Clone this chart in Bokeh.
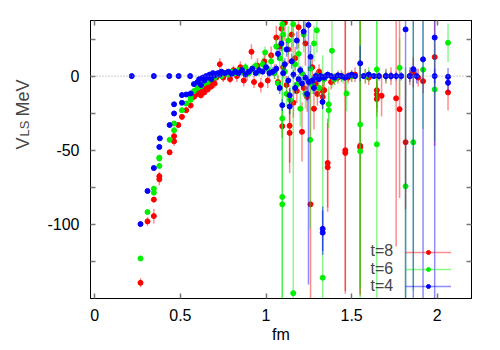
import math
from bokeh.plotting import figure
from bokeh.layouts import row
from bokeh.models import (ColumnDataSource, Span, Label, Legend, LegendItem,
                          LinearAxis, FixedTicker, CustomJSTickFormatter, Range1d)
from bokeh.embed import file_html
from bokeh.resources import INLINE

# ---------------- data ----------------
series_names = ["t=8", "t=6", "t=4"]

x8 = [0.267, 0.308, 0.345, 0.345, 0.377, 0.377, 0.437, 0.463, 0.463, 0.488,
      0.509, 0.534, 0.56, 0.58, 0.60, 0.61, 0.62, 0.63, 0.64, 0.65,
      0.66, 0.67, 0.68, 0.69, 0.70, 0.71, 0.72, 0.73, 0.75, 0.77,
      0.79, 0.81, 0.83, 0.85, 0.87, 0.89, 0.915, 0.93, 0.95, 0.97,
      0.99, 1.01, 1.03, 1.05, 1.06, 1.07, 1.08, 1.09, 1.095, 1.10,
      1.11, 1.12, 1.13, 1.138, 1.138, 1.15, 1.16, 1.17, 1.18, 1.19,
      1.21, 1.22, 1.23, 1.24, 1.26, 1.27, 1.28, 1.29, 1.30, 1.31,
      1.331, 1.331, 1.34, 1.36, 1.36, 1.38, 1.40, 1.42, 1.44, 1.463,
      1.463, 1.48, 1.50, 1.52, 1.55, 1.55, 1.58, 1.60, 1.647, 1.647,
      1.647, 1.675, 1.70, 1.73, 1.76, 1.78, 1.815, 1.84, 1.86, 1.889,
      1.917, 1.985, 2.063]
y8 = [-139.4, -98, -94.4, -83.3, -69.6, -67.5, -51.4, -44, -40.5, -33,
      -27.5, -23, -19.8, -14, -12, -10, -13, -9, -11, -7,
      -9, -5, -7, -3, -5, -1, 1, 8, -1, 2,
      -2, 4, 0, 6, -3, 2, 16.4, -4, 7, -6,
      10, -3, 14, 3, 26, -4, 20, 32, -33.8, 6,
      36, -6, 18, -38.3, -33.5, 28, -18, 12, -10, 33,
      -37.6, -8, 22, -14, -86.5, 6, -22, -5, -12, 3,
      -14, -10, -9.5, -58.6, -61.5, -4, -2, -1, 0, -50,
      -51.8, -1, 0, 1, -47, -48, 0, -1, -9.5, -12.4,
      -15.5, -13.3, 0, 0, -15, -22.3, -44.6, 0, 2.5, -1,
      -3.4, 12.8, -11]
e8 = [3, 3, 5, 2, 4, 3, 2, 3, 2, 2,
      2, 2, 2, 2, 2, 2, 2, 2, 2, 2,
      2, 2, 2, 2, 3, 2, 3, 4, 3, 3,
      3, 3, 4, 4, 4, 5, 5, 4, 5, 5,
      6, 5, 6, 5, 8, 5, 8, 10, 8, 5,
      12, 6, 10, 27, 25, 12, 10, 8, 8, 14,
      20, 6, 15, 10, 80, 8, 14, 6, 8, 5,
      8, 8, 6, 30, 30, 5, 4, 4, 4, 95,
      95, 4, 4, 5, 100, 100, 5, 5, 12, 12,
      12, 14, 5, 6, 100, 60, 45, 6, 10, 6,
      8, 60, 12]

x6 = [0.267, 0.308, 0.345, 0.345, 0.377, 0.377, 0.377, 0.437, 0.463, 0.463,
      0.509, 0.534, 0.56, 0.56, 0.58, 0.60, 0.61, 0.62, 0.63, 0.64,
      0.65, 0.66, 0.67, 0.68, 0.69, 0.70, 0.72, 0.74, 0.76, 0.78,
      0.80, 0.82, 0.84, 0.86, 0.88, 0.90, 0.92, 0.94, 0.96, 0.98,
      0.995, 1.01, 1.03, 1.05, 1.06, 1.07, 1.08, 1.095, 1.095, 1.095,
      1.095, 1.10, 1.11, 1.12, 1.13, 1.14, 1.159, 1.159, 1.17, 1.18,
      1.19, 1.20, 1.21, 1.22, 1.23, 1.258, 1.26, 1.27, 1.28, 1.297,
      1.30, 1.31, 1.331, 1.34, 1.366, 1.366, 1.385, 1.40, 1.42, 1.45,
      1.47, 1.50, 1.55, 1.55, 1.58, 1.60, 1.647, 1.647, 1.70, 1.78,
      1.815, 1.86, 1.917, 1.985, 2.063]
y6 = [-123, -91.7, -78.6, -75.9, -60.6, -55.6, -55, -43, -36.5, -32,
      -23, -18.5, -16, -14, -10, -8, -6, -7, -4, -5,
      -3, -4, -1, -2, 0, -1, 1, 0, 2, 1,
      3, 2, 4, 3, 6, 2, 5, 7, 3, 8,
      16, 5, 10, 2, 20, -5, 12, 35, -81.5, -86.5,
      -28.6, 28, 3, -12, 24, -16, 35, -146.4, 8, -6,
      15, -22, 2, 28, -12, -43, 5, -6, 22, 30.9,
      0, -8, -136, -2, -23, -19, 17.1, -2, 0, -1,
      -11.7, 0, -50.7, -32.6, 0, 1, 4.5, -46, 0, 5.6,
      -74.3, -44.6, 4.3, -9, 22.5]
e6 = [1.5, 1.5, 1.5, 1.5, 1.5, 1.5, 1.5, 1.5, 1.5, 1.5,
      1.5, 1.5, 1.5, 1.5, 1.5, 1.5, 1.5, 1.5, 1.5, 1.5,
      1.5, 1.5, 1.5, 1.5, 1.5, 2, 2, 2, 2, 2,
      2, 2, 2, 3, 3, 3, 3, 3, 3, 4,
      4, 4, 5, 4, 6, 5, 6, 15, 130, 130,
      8, 10, 5, 8, 10, 10, 15, 190, 6, 6,
      10, 12, 5, 12, 10, 60, 5, 6, 12, 15,
      4, 6, 150, 4, 12, 12, 25, 4, 4, 4,
      12, 4, 110, 110, 5, 5, 40, 110, 5, 20,
      80, 100, 40, 35, 13]

x4 = [0.216, 0.345, 0.435, 0.49, 0.557, 0.267, 0.308, 0.345, 0.377, 0.38,
      0.437, 0.463, 0.463, 0.509, 0.509, 0.534, 0.56, 0.579, 0.60, 0.61,
      0.62, 0.63, 0.64, 0.65, 0.66, 0.67, 0.68, 0.69, 0.70, 0.71,
      0.72, 0.73, 0.74, 0.76, 0.78, 0.80, 0.82, 0.84, 0.86, 0.88,
      0.90, 0.92, 0.94, 0.96, 0.98, 1.00, 1.02, 1.04, 1.06, 1.07,
      1.08, 1.09, 1.095, 1.10, 1.11, 1.12, 1.13, 1.138, 1.138, 1.15,
      1.16, 1.17, 1.18, 1.19, 1.20, 1.21, 1.22, 1.23, 1.24, 1.248,
      1.25, 1.26, 1.27, 1.28, 1.29, 1.30, 1.31, 1.32, 1.331, 1.331,
      1.33, 1.34, 1.35, 1.36, 1.38, 1.40, 1.42, 1.44, 1.46, 1.48,
      1.50, 1.52, 1.55, 1.57, 1.60, 1.63, 1.66, 1.70, 1.73, 1.76,
      1.79, 1.815, 1.84, 1.86, 1.88, 1.917, 1.985, 1.985, 2.063, 2.063]
y4 = [0, 0, 0, 0, 0, -99.8, -77.5, -62, -47.8, -42,
      -33, -25.2, -19, -18, -12.8, -12.4, -11.7, -5.4, -4, -2,
      -6, -1, -3, 0, -1, 1, -2, 2, 0.5, 1.5,
      2, 1, 3, 2, 3, 1.5, 3, 2, 4, 1,
      3, 5, 2, 4, 3, 6, 2, 3, 5, 15,
      -8, 22, -19.6, 2, 8, 18, -3, -13, -20.5, 10,
      1, -8, 24, -2, 4, -5, 30, -1, -12, 34.5,
      -4, 13, -3, -8, 0, -1, -2, 0, -103, -105.6,
      -17.4, -1, 0, 1, 0, -1, 0.5, 0, -1, 0,
      1, 0, 8.6, 0, 1, 0, 0, 0, 0, 0,
      0, 31.5, 0, 4.7, 0, 11.3, 26, 0, -0.5, -4.5]
e4 = [0.5, 0.5, 0.5, 0.5, 0.5, 1.5, 1.5, 1.5, 1.5, 1.5,
      1.5, 1.5, 1.5, 1.5, 1.5, 1.5, 1.5, 1.5, 1, 1,
      1, 1, 1, 1, 1, 1, 1, 1, 1, 1,
      1, 1, 1.5, 1.5, 1.5, 1.5, 1.5, 1.5, 2, 2,
      2, 2, 2, 2, 2, 3, 3, 3, 3, 4,
      4, 5, 4, 3, 4, 5, 3, 5, 5, 5,
      3, 4, 6, 3, 3, 3, 8, 3, 5, 175,
      3, 8, 3, 4, 3, 3, 2, 2, 15, 15,
      5, 2, 2, 2, 2, 2, 2, 2, 2, 2,
      2, 2, 12, 2, 2, 2, 3, 3, 3, 3,
      3, 200, 4, 200, 5, 200, 200, 5, 6, 6]

xticks = [0, 0.5, 1, 1.5, 2]
yticks = [-100, -50, 0]
yminor = [-125, -75, -25, 25]
x_title = "fm"
y_title_parts = ["V", "LS", "MeV"]   # V with subscript LS, then MeV

point_colors = ["#ff0000", "#00f000", "#0000ff"]

FONT = "Liberation Sans"
H = 346
LW = 44  # width of the strip holding the rotated y title

p = figure(width=492 - LW, height=H, x_range=Range1d(-0.025, 2.2),
           y_range=Range1d(-150, 37.5), output_backend="svg",
           toolbar_location=None, min_border_left=88 - LW, min_border_right=21,
           min_border_top=20, min_border_bottom=48)
p.background_fill_color = "white"
p.border_fill_color = "white"
p.outline_line_color = "black"
p.outline_line_width = 1
p.xgrid.visible = False
p.ygrid.visible = False

p.add_layout(Span(location=0, dimension="width", line_color="#999999",
                  line_dash="1 2", line_width=1))

legend_items = []
for name, xs, ys, es, col in zip(series_names, [x8, x6, x4], [y8, y6, y4],
                                 [e8, e6, e4], point_colors):
    src = ColumnDataSource(dict(x=xs, y=ys,
                                lo=[a - b for a, b in zip(ys, es)],
                                hi=[a + b for a, b in zip(ys, es)]))
    seg = p.segment(x0="x", y0="lo", x1="x", y1="hi", source=src,
                    line_color=col, line_alpha=0.45, line_width=1.5)
    pts = p.scatter("x", "y", source=src, size=5, marker="circle",
                    fill_color=col, line_color=col)
    legend_items.append(LegendItem(label=" ", renderers=[seg, pts]))

tick_color = "#777777"

def style_axis(ax, ticker):
    ax.ticker = ticker
    ax.axis_line_color = "black"
    ax.major_tick_in = 5
    ax.major_tick_out = 0
    ax.minor_tick_in = 5
    ax.minor_tick_out = 0
    ax.major_tick_line_color = tick_color
    ax.minor_tick_line_color = tick_color
    ax.major_tick_line_width = 1.5
    ax.minor_tick_line_width = 1.5
    ax.major_label_text_font = FONT
    ax.major_label_text_font_size = "16px"
    ax.major_label_text_color = "black"

xt = FixedTicker(ticks=xticks, minor_ticks=[])
yt = FixedTicker(ticks=yticks, minor_ticks=yminor)

xa = p.xaxis[0]
style_axis(xa, xt)
xa.formatter = CustomJSTickFormatter(code="return tick.toString()")
xa.major_label_standoff = 10
xa.axis_label = x_title
xa.axis_label_standoff = 2
xa.axis_label_text_font = FONT
xa.axis_label_text_font_size = "16px"
xa.axis_label_text_font_style = "normal"
xa.axis_label_text_color = "black"

ya = p.yaxis[0]
style_axis(ya, yt)
ya.formatter = CustomJSTickFormatter(code="return tick.toString()")
ya.major_label_standoff = 11

for loc, tk in (("right", yt), ("above", xt)):
    ax = LinearAxis()
    style_axis(ax, tk)
    ax.formatter = CustomJSTickFormatter(code="return ''")
    ax.major_label_standoff = 0
    ax.major_label_text_font_size = "0px"
    p.add_layout(ax, loc)

# legend samples (line + point), with the key texts to their left
legend = Legend(items=legend_items, location=(315, 4), orientation="vertical",
                glyph_width=46, glyph_height=10, label_height=17,
                label_standoff=0, spacing=0, padding=0, margin=0,
                border_line_color=None, background_fill_alpha=0,
                label_text_font=FONT, label_text_font_size="16px")
p.add_layout(legend)

key_y = [47.7, 30.4, 13]   # frame-relative, from frame bottom
for name, ky in zip(series_names, key_y):
    p.add_layout(Label(x=280, y=ky, x_units="screen", y_units="screen",
                       text=name, text_font=FONT, text_font_size="16px",
                       text_align="left", text_baseline="middle"))

# strip on the left holding the rotated y title (V_LS MeV)
lab = figure(width=LW, height=H, x_range=Range1d(0, LW), y_range=Range1d(0, H),
             output_backend="svg", toolbar_location=None,
             x_axis_location=None, y_axis_location=None, min_border=0)
lab.outline_line_color = None
lab.xgrid.visible = False
lab.ygrid.visible = False
lab.background_fill_color = "white"
lab.border_fill_color = "white"
for txt, bx, cy, fs in zip(y_title_parts, [22, 23.5, 22], [191, 176, 145.5],
                           ["18px", "13px", "18px"]):
    lab.add_layout(Label(x=bx, y=H - cy, x_units="screen", y_units="screen",
                         text=txt, angle=math.pi / 2, text_font=FONT,
                         text_font_size=fs, text_align="center",
                         text_baseline="alphabetic"))

layout = row(lab, p)
open("out.html", "w").write(file_html(layout, INLINE))
